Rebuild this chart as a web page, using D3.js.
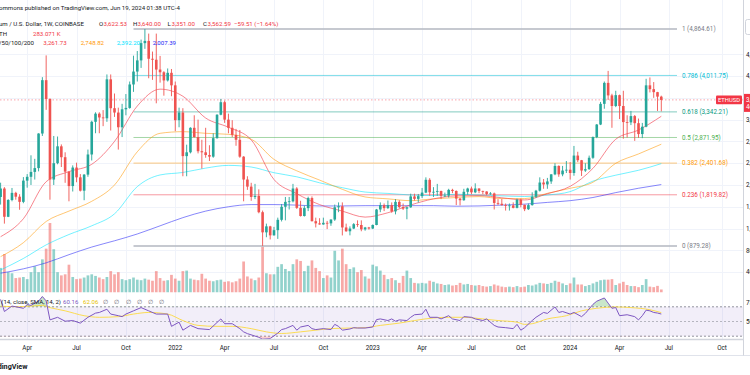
<!DOCTYPE html>
<meta charset="utf-8">
<script src="https://d3js.org/d3.v7.min.js"></script>
<style>
  body { margin: 0; background: #fff; }
  svg { display: block; font-family: Roboto, "Liberation Sans", Arial, sans-serif; }
</style>
<div id="chart"></div>
<script>
// ETHUSD weekly (Coinbase), first bar is the week of 2021-02-15
var firstWeek = "2021-02-15";

var open = [1780,1935,1416,1724,1855,1785,1690,2080,2150,2240,2310,2945,3925,3580,2100,2400,2710,2510,2245,1980,2320,2140,1895,2190,2560,3160,3310,3240,3225,3940,3410,3330,3060,3390,3415,3846,4083,4288,4605,4646,4318,4300,4120,4070,3920,4060,
  3830,3190,3330,2530,2600,3050,2880,2620,2600,2550,2520,2860,3290,3520,3200,3050,2920,2830,2520,2100,1970,1780,1800,1500,1130,1240,1075,1170,1360,1600,1690,1700,1935,1580,1430,1575,1760,1335,1295,1275,1305,1295,1365,1590,1610,1220,1150,1200,1280,1265,1185,1220,
  1200,1265,1550,1630,1575,1630,1515,1690,1595,1565,1590,1790,1745,1795,1860,2095,1865,1875,1890,1800,1805,1910,1890,1750,1720,1875,1935,1865,1935,1890,1880,1835,1845,1670,1655,1630,1615,1625,1580,1730,1635,1555,1630,1785,1895,2045,2010,2065,2195,2350,2195,2265,
  2280,2220,2540,2455,2265,2290,2500,2880,3110,3490,3875,3645,3450,3650,3450,3155,3150,3265,3135,2935,3070,3830,3760,3705,3622.53];
var high = [2042,1960,1740,1945,1875,1830,2145,2200,2545,2480,2950,3980,4380,3590,2900,2890,2745,2600,2250,2360,2410,2200,2200,2650,3180,3335,3335,3375,4030,4030,3680,3420,3490,3670,3900,4375,4460,4670,4865,4780,4450,4780,4370,4090,4140,4130,
  3900,3420,3410,2740,3060,3280,3200,2830,3050,2730,2950,3300,3580,3550,3310,3190,3030,3010,2530,2160,2040,2020,1920,1530,1290,1250,1230,1400,1650,1780,1780,2020,1960,1710,1620,1785,1790,1400,1390,1400,1340,1370,1640,1680,1680,1290,1240,1300,1350,1350,1230,1230,
  1275,1560,1680,1660,1715,1680,1740,1720,1660,1600,1840,1840,1835,1945,2140,2125,1960,2020,1895,1860,1930,1930,1900,1760,1930,1950,1970,2030,1940,1895,1885,1870,1860,1740,1745,1660,1660,1680,1750,1750,1640,1660,1865,1910,2140,2110,2130,2200,2400,2360,2350,2440,
  2420,2717,2610,2460,2400,2540,2890,3120,3525,3900,4095,3675,3730,3660,3730,3280,3360,3285,3220,3140,3950,3975,3890,3710,3640];
var low = [1640,1290,1410,1700,1730,1545,1665,1950,2000,2100,2250,2900,3380,1730,2000,2380,2330,2040,1700,1880,2050,1880,1720,2150,2450,2950,2950,3080,3160,3000,3250,2650,2880,3280,3400,3710,3900,4150,4500,3960,3930,3500,3880,3640,3900,3630,
  2990,3060,2160,2160,2580,2870,2580,2300,2500,2440,2500,2850,3280,3140,2950,2880,2720,2500,1700,1910,1710,1740,1480,880,1040,1000,1070,1010,1330,1350,1550,1680,1560,1420,1420,1520,1330,1220,1270,1270,1190,1250,1340,1500,1073,1140,1075,1190,1230,1150,1160,1180,
  1190,1260,1500,1520,1560,1490,1460,1570,1540,1370,1580,1715,1680,1760,1850,1800,1780,1800,1740,1780,1770,1850,1630,1625,1710,1820,1830,1850,1850,1830,1810,1820,1550,1630,1620,1530,1530,1570,1570,1590,1520,1540,1620,1760,1880,1930,1930,2020,2180,2150,2160,2220,
  2100,2170,2420,2165,2240,2280,2480,2860,3100,3400,3560,3050,3430,3210,2850,2870,3100,2810,2865,2860,3060,3700,3600,3360,3351];
var close = [1935,1416,1724,1855,1785,1690,2080,2150,2240,2310,2945,3925,3580,2100,2400,2710,2510,2245,1980,2320,2140,1895,2190,2560,3160,3310,3240,3225,3940,3410,3330,3060,3390,3415,3846,4083,4288,4605,4646,4318,4300,4120,4070,3920,4060,3830,
  3190,3330,2530,2600,3050,2880,2620,2600,2550,2520,2860,3290,3520,3200,3050,2920,2830,2520,2100,1970,1780,1800,1500,1130,1240,1075,1170,1360,1600,1690,1700,1935,1580,1430,1575,1760,1335,1295,1275,1305,1295,1365,1590,1610,1220,1150,1200,1280,1265,1185,1220,1200,
  1265,1550,1630,1575,1630,1515,1690,1595,1565,1590,1790,1745,1795,1860,2095,1865,1875,1890,1800,1805,1910,1890,1750,1720,1875,1935,1865,1935,1890,1880,1835,1845,1670,1655,1630,1615,1625,1580,1730,1635,1555,1630,1785,1895,2045,2010,2065,2195,2350,2195,2265,2280,
  2220,2540,2455,2265,2290,2500,2880,3110,3490,3875,3645,3450,3650,3450,3155,3150,3265,3135,2935,3070,3830,3760,3705,3622.53,3562.59];
// volume, thousands of ETH
var volume = [2300,3600,1900,1800,1350,1400,1450,1250,1900,2450,1900,3100,4100,6500,4050,1900,1600,1700,2600,1450,1250,1300,1400,1600,1700,1550,1400,1250,1450,2000,1700,1900,1250,1150,1250,1400,1200,1150,1300,1200,1100,2000,1350,1100,1150,1650,
  1300,1100,2000,2050,1300,1200,1150,1750,1300,1100,1050,1150,1200,1000,1050,950,1050,1300,2900,1500,1300,1150,1400,4300,1800,1700,1700,2400,2650,2200,2000,2650,3100,2950,2000,2500,3000,2300,2000,1350,1600,1400,3900,3000,4100,2650,2200,2350,1900,2100,1500,1300,
  2600,2450,2050,1650,1250,1350,1150,900,1550,2050,1350,900,850,900,850,1100,1000,850,800,700,750,650,700,900,750,800,700,650,700,600,550,600,750,650,550,500,550,500,600,500,550,700,650,750,900,850,800,900,1100,1000,850,700,
  850,1400,750,750,600,700,850,1000,1150,1200,1200,1250,700,850,1000,700,600,600,500,700,1250,550,500,620,283];

// moving averages every 6 weeks (week index from firstWeek)
var maWeeks = [0,6,12,18,24,30,36,42,48,54,60,66,72,78,84,90,96,102,108,114,120,126,132,138,144,150,156,162,168,174];
var ma20  = [1050,1380,2060,2245,2380,2800,3450,3760,3630,3230,3060,2830,2100,1840,1640,1520,1410,1490,1633,1745,1800,1805,1765,1725,1840,1975,2306,2840,3010,3261.73];
var ma50  = [684,940,1330,1520,1700,2000,2610,2949,2979,2949,2930,2840,2470,2260,2090,1920,1780,1745,1712,1745,1770,1786,1750,1750,1847,1939,2050,2398,2570,2748.82];
var ma100 = [439,650,900,1090,1250,1470,1970,2184,2230,2310,2360,2330,2225,2150,2040,1950,1870,1845,1816,1805,1830,1815,1800,1788,1815,1878,2070,2180,2270,2392.20];
var ma200 = [380,460,570,720,860,975,1100,1250,1400,1520,1600,1640,1640,1630,1615,1615,1620,1620,1620,1620,1610,1615,1630,1648,1680,1712,1770,1860,1940,2007.39];

// RSI 14 and its SMA 14
var rsiWeeks = [0,1,3,6,7,8,10,11,12,13,15,17,19,21,23,25,26,28,29,31,32,33,35,37,39,41,44,45,47,48,50,52,55,58,59,61,63,64,65,68,69,71,73,74,75,77,78,79,81,82,83,85,87,88,89,90,92,93,94,96,98,99,100,102,103,104,105,107,108,109,111,112,113,115,116,118,119,121,122,124,125,127,128,130,131,133,135,136,137,138,140,141,143,144,146,147,148,150,151,153,154,156,157,159,160,161,162,163,165,167,168,169,170,171,172,173,174];
var rsi = [80,63.6,71,68,73,72,77.6,84,78,52.2,55.7,50.4,51.3,47.8,55.7,61.4,62.3,66.7,60.1,57.9,56.6,60.1,64.5,68.9,64.5,60.1,60.1,43.4,49.1,38.2,44.7,40.3,39,53.5,47,47,40.3,35.9,33.5,28.5,25.9,26.8,34.2,39,40.3,44.7,38.2,42.5,44.7,40.3,39,40.3,39,46.1,43.4,38.2,39.8,41.6,41.1,41.1,42.5,52.6,53.5,51.3,53.5,50.4,52.2,51.3,55.7,59.2,60.1,66.7,55.7,55.7,53.5,57.9,53.5,51.3,56.6,55.7,53.5,51.3,53.5,44.7,42.5,41.6,40.3,46.1,38.2,41.6,51.3,55.7,62.3,61,69.8,62.3,63.6,60.1,62.3,56.6,61,73.3,77.6,82,75,68,69,57.9,59.2,56.6,52.2,57.9,65.4,64.5,62.3,61.5,60.16];
var rsiMaWeeks = [0,5,11,13,17,22,26,31,35,39,44,48,52,57,61,66,70,74,79,83,87,92,96,100,105,109,114,118,122,127,131,136,138,140,144,149,153,157,162,166,171,174];
var rsiMa = [71,70,72,68.9,64.5,57.9,55.7,56.6,60.1,62.3,60.1,51.3,44.7,43.4,43.4,40.3,35.9,33.7,35.9,38.2,40.3,41.1,41.6,44.7,47.8,51.3,54.8,55.7,55.7,53.5,51.3,49.1,46.1,47,53.5,57.9,64.5,68,69.8,68.9,66,62.06];

// fib retracement drawn from the 2022 low to the 2021 high
var fibRatios = ["1","0.786","0.618","0.5","0.382","0.236","0"];
var fibPrices = [4864.61,4011.75,3342.21,2871.95,2401.68,1819.82,879.28];
var fibColors = ["#787b86","#00bcd4","#089981","#4caf50","#ff9800","#f23645","#787b86"];
var fibStartWeek = 35;

var priceTicks = [400,800,1200,1600,2000,2400,2800,3200,3600,4000,4400];
var lastPrice = 3562.59;

var W = 750, H = 375, axisX = 743;
var ink = "#131722", up = "#26a69a", down = "#ef5350";

var parse = d3.utcParse("%Y-%m-%d");
var t0 = parse(firstWeek);
function weekDate(k) { return d3.utcDay.offset(t0, 7 * k); }

var bars = open.map(function(o, i) {
  return { d: weekDate(i), o: o, h: high[i], l: low[i], c: close[i], v: volume[i] };
});

var x = d3.scaleUtc().domain([t0, weekDate(open.length - 1)]).range([0.6, 661.3]);
var y = d3.scaleLinear().domain([879.28, 4864.61]).range([246, 29]);
var yv = d3.scaleLinear().domain([0, 6500]).range([292.5, 223]);
var yr = d3.scaleLinear().domain([30, 70]).range([336.2, 306.8]);

var svg = d3.select("#chart").append("svg").attr("width", W).attr("height", H);
var defs = svg.append("defs");
defs.append("clipPath").attr("id", "mainClip").append("rect").attr("x", 0).attr("y", 0).attr("width", axisX).attr("height", 292.5);
defs.append("clipPath").attr("id", "rsiClip").append("rect").attr("x", 0).attr("y", 293).attr("width", axisX).attr("height", 46);
defs.append("clipPath").attr("id", "obClip").append("rect").attr("x", 0).attr("y", 293).attr("width", axisX).attr("height", yr(70) - 293);
defs.append("clipPath").attr("id", "osClip").append("rect").attr("x", 0).attr("y", yr(30)).attr("width", axisX).attr("height", 339 - yr(30));

// time ticks on the first weekly bar of each quarter
var tickMonths = d3.utcMonth.every(3).range(parse("2021-04-01"), parse("2024-10-02"));
var ticks = tickMonths.map(function(m) {
  return { x: x(d3.utcMonday.ceil(m)), label: m.getUTCMonth() === 0 ? d3.utcFormat("%Y")(m) : d3.utcFormat("%b")(m) };
});

// grid
var grid = svg.append("g").attr("stroke", "#f0f3fa").attr("stroke-width", 1);
grid.selectAll(".v").data(ticks).enter().append("line")
  .attr("x1", d => Math.round(d.x) + 0.5).attr("x2", d => Math.round(d.x) + 0.5)
  .attr("y1", 0).attr("y2", 339);
grid.selectAll(".h").data(priceTicks).enter().append("line")
  .attr("x1", 0).attr("x2", axisX)
  .attr("y1", d => Math.round(y(d)) + 0.5).attr("y2", d => Math.round(y(d)) + 0.5);

var main = svg.append("g").attr("clip-path", "url(#mainClip)");

// volume
main.append("g").selectAll("rect").data(bars).enter().append("rect")
  .attr("x", d => x(d.d) - 1.35).attr("width", 2.7)
  .attr("y", d => yv(d.v)).attr("height", d => yv(0) - yv(d.v))
  .attr("fill", d => d.c >= d.o ? up : down).attr("opacity", 0.5);

// fib levels
var fx0 = x(weekDate(fibStartWeek)), fx1 = 677;
var fib = main.append("g");
fibPrices.forEach(function(p, i) {
  var gray = fibColors[i] === "#787b86";
  fib.append("line").attr("x1", fx0).attr("x2", fx1)
    .attr("y1", y(p)).attr("y2", y(p))
    .attr("stroke", gray ? "#b8bbc4" : fibColors[i])
    .attr("stroke-opacity", gray ? 0.8 : 0.5)
    .attr("stroke-width", gray ? 2 : 1);
  fib.append("text").attr("x", 682).attr("y", y(p) + 2.3)
    .attr("font-size", 6.3).attr("fill", fibColors[i])
    .text(fibRatios[i] + " (" + d3.format(",.2f")(p) + ")");
});

// moving averages
var maLine = d3.line().x(d => x(weekDate(d[0]))).y(d => y(d[1])).curve(d3.curveMonotoneX);
[[ma200, "#2424f5", 0.55], [ma100, "#00e5ff", 0.55], [ma50, "#ff9800", 0.55], [ma20, "#f23645", 0.6]].forEach(function(m) {
  main.append("path").datum(maWeeks.map((k, i) => [k, m[0][i]]))
    .attr("d", maLine).attr("fill", "none")
    .attr("stroke", m[1]).attr("stroke-opacity", m[2]).attr("stroke-width", 1);
});

// last price line
main.append("line").attr("x1", 0).attr("x2", axisX)
  .attr("y1", y(lastPrice)).attr("y2", y(lastPrice))
  .attr("stroke", "#f23645").attr("stroke-opacity", 0.45).attr("stroke-dasharray", "1.5,2");

// candles
var candle = main.append("g").selectAll("g").data(bars).enter().append("g")
  .attr("fill", d => d.c >= d.o ? up : down).attr("stroke", d => d.c >= d.o ? up : down);
candle.append("line")
  .attr("x1", d => x(d.d)).attr("x2", d => x(d.d))
  .attr("y1", d => y(d.h)).attr("y2", d => y(d.l)).attr("stroke-width", 0.9);
candle.append("rect")
  .attr("x", d => x(d.d) - 1.3).attr("width", 2.6)
  .attr("y", d => y(Math.max(d.o, d.c)))
  .attr("height", d => Math.max(0.8, Math.abs(y(d.o) - y(d.c))))
  .attr("stroke", "none");

// RSI pane
svg.append("rect").attr("x", 0).attr("width", axisX)
  .attr("y", yr(70)).attr("height", yr(30) - yr(70))
  .attr("fill", "#7e57c2").attr("fill-opacity", 0.1);
[70, 50, 30].forEach(function(v) {
  svg.append("line").attr("x1", 0).attr("x2", axisX)
    .attr("y1", yr(v)).attr("y2", yr(v))
    .attr("stroke", "#787b86").attr("stroke-opacity", v === 50 ? 0.5 : 0.8)
    .attr("stroke-dasharray", "2,2");
});
var rsiPts = rsiWeeks.map((k, i) => [k, rsi[i]]);
var rsiG = svg.append("g").attr("clip-path", "url(#rsiClip)");
rsiG.append("path").datum(rsiPts).attr("clip-path", "url(#obClip)")
  .attr("d", d3.area().x(d => x(weekDate(d[0]))).y0(yr(70)).y1(d => yr(d[1])))
  .attr("fill", "#4caf50").attr("fill-opacity", 0.3);
rsiG.append("path").datum(rsiPts).attr("clip-path", "url(#osClip)")
  .attr("d", d3.area().x(d => x(weekDate(d[0]))).y0(yr(30)).y1(d => yr(d[1])))
  .attr("fill", "#f23645").attr("fill-opacity", 0.25);
rsiG.append("path").datum(rsiMaWeeks.map((k, i) => [k, rsiMa[i]]))
  .attr("d", d3.line().x(d => x(weekDate(d[0]))).y(d => yr(d[1])).curve(d3.curveMonotoneX))
  .attr("fill", "none").attr("stroke", "#fdd835").attr("stroke-opacity", 0.85).attr("stroke-width", 1);
rsiG.append("path").datum(rsiPts)
  .attr("d", d3.line().x(d => x(weekDate(d[0]))).y(d => yr(d[1])))
  .attr("fill", "none").attr("stroke", "#7e57c2").attr("stroke-width", 1);

// frame lines
svg.append("line").attr("x1", 0).attr("x2", axisX).attr("y1", 339.5).attr("y2", 339.5).attr("stroke", "#d1d4dc").attr("stroke-width", 1.5);
svg.append("line").attr("x1", 0).attr("x2", W).attr("y1", 355.5).attr("y2", 355.5).attr("stroke", "#e0e3eb");
svg.append("line").attr("x1", axisX + 0.5).attr("x2", axisX + 0.5).attr("y1", 0).attr("y2", 355.5).attr("stroke", "#d1d4dc");

// time axis labels
svg.append("g").selectAll("text").data(ticks).enter().append("text")
  .attr("x", d => d.x).attr("y", 350).attr("text-anchor", "middle")
  .attr("font-size", 6.3).attr("fill", ink).text(d => d.label);

// price axis labels (cut off by the image edge, as in the original)
svg.append("g").selectAll("text").data(priceTicks.filter(p => p !== 3600)).enter().append("text")
  .attr("x", 746).attr("y", d => y(d) + 2.3).attr("font-size", 6.3).attr("fill", ink)
  .text(d => d3.format(",")(d));
svg.append("text").attr("x", 746).attr("y", yr(75) + 2.3).attr("font-size", 6.3).attr("fill", ink).text("75.00");
svg.append("text").attr("x", 746).attr("y", yr(50) + 2.3).attr("font-size", 6.3).attr("fill", ink).text("50.00");
svg.append("rect").attr("x", 745.5).attr("y", 19.5).attr("width", 12).attr("height", 15).attr("rx", 2)
  .attr("fill", "#fff").attr("stroke", "#d1d4dc");

// last price labels
svg.append("rect").attr("x", 716).attr("y", y(lastPrice) - 4.3).attr("width", 26).attr("height", 8.6).attr("rx", 1).attr("fill", "#f23645");
svg.append("text").attr("x", 729).attr("y", y(lastPrice) + 2.2).attr("text-anchor", "middle")
  .attr("font-size", 5.8).attr("fill", "#fff").text("ETHUSD");
svg.append("rect").attr("x", 744).attr("y", y(lastPrice) - 6).attr("width", 12).attr("height", 18).attr("fill", "#f23645");
svg.append("text").attr("x", 746).attr("y", y(lastPrice) + 2).attr("font-size", 6.3).attr("fill", "#fff").text("3,562.59");
svg.append("text").attr("x", 746).attr("y", y(lastPrice) + 9.5).attr("font-size", 6.3).attr("fill", "#fff").text("4d");

// legend
var red = "#f23645";
function seg(g, xx, yy, txt, col) {
  g.append("text").attr("x", xx).attr("y", yy).attr("font-size", 6.1).attr("fill", col).text(txt);
}
var lg = svg.append("g");
seg(lg, -1, 10, "ommons published on TradingView.com, Jun 19, 2024 01:38 UTC-4", ink);
seg(lg, -1, 26, "um / U.S. Dollar, 1W, COINBASE", ink);
seg(lg, 99, 26, "O", ink); seg(lg, 103.5, 26, "3,622.53", red);
seg(lg, 133, 26, "H", ink); seg(lg, 137.5, 26, "3,640.00", red);
seg(lg, 167.5, 26, "L", ink); seg(lg, 171.5, 26, "3,351.00", red);
seg(lg, 203, 26, "C", ink); seg(lg, 207.5, 26, "3,562.59", red);
seg(lg, 234, 26, "\u221259.51 (\u22121.64%)", red);
seg(lg, -1, 35.5, "TH", ink); seg(lg, 33, 35.5, "283.071 K", red);
seg(lg, -1, 45, "/50/100/200", ink);
seg(lg, 43.3, 45, "3,261.73", "#f23645");
seg(lg, 80.7, 45, "2,748.82", "#ff9800");
seg(lg, 116.7, 45, "2,392.20", "#00e5ff");
seg(lg, 152.7, 45, "2,007.39", "#2424f5");

svg.append("text").attr("x", 61).attr("y", 304).attr("text-anchor", "end").attr("font-size", 6.1).attr("fill", ink)
  .text("RSI (14, close, SMA, 14, 2)");
seg(svg, 63, 304, "60.16", "#7e57c2");
seg(svg, 83, 304, "62.06", "#e6c200");
[105, 116.7, 128.3, 139.3, 150.7, 161.7].forEach(function(xx) {
  svg.append("text").attr("x", xx).attr("y", 304).attr("text-anchor", "middle")
    .attr("font-size", 6.3).attr("fill", "#5d606b").text("\u2205");
});

svg.append("text").attr("x", 27.5).attr("y", 369).attr("text-anchor", "end")
  .attr("font-size", 7.2).attr("font-weight", "bold").attr("fill", ink).text("TradingView");
</script>
